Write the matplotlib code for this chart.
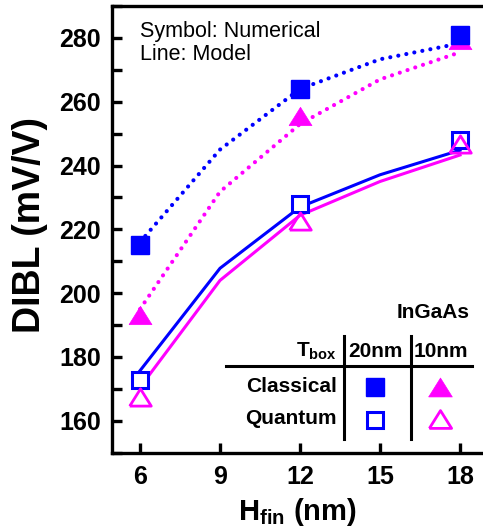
import numpy as np
import matplotlib
matplotlib.use('Agg')
import matplotlib.pyplot as plt
from matplotlib.ticker import MultipleLocator

plt.rcParams['font.family'] = ['Liberation Sans', 'DejaVu Sans']
plt.rcParams['mathtext.fontset'] = 'custom'
plt.rcParams['mathtext.rm'] = 'Liberation Sans:bold'
plt.rcParams['mathtext.it'] = 'Liberation Sans:bold'
plt.rcParams['mathtext.bf'] = 'Liberation Sans:bold'

# fin height (nm)
hfin_sim = [6, 12, 18]
hfin_model = [6, 9, 12, 15, 18]

# numerical (symbols), DIBL in mV/V
classical_20 = [215.2, 264.0, 281.0]
classical_10 = [193.2, 255.6, 279.2]
quantum_20 = [172.8, 227.8, 248.1]
quantum_10 = [167.6, 222.5, 246.8]

# model (lines)
model_classical_20 = [216.0, 245.0, 264.0, 273.3, 278.3]
model_classical_10 = [195.0, 231.8, 253.0, 267.0, 275.5]
model_quantum_20 = [175.7, 207.8, 227.0, 237.1, 244.8]
model_quantum_10 = [170.5, 204.0, 224.4, 235.0, 243.3]

blue = '#0000ff'
magenta = '#ff00ff'

# slightly wide triangle marker like the original
tri = [(-1, -0.8), (1, -0.8), (0, 0.8), (-1, -0.8)]

fig = plt.figure(figsize=(4.83, 5.29), dpi=100)
ax = fig.add_axes([112/483, (529-452.7)/529, 374.7/483, 446.7/529])

# model lines
dots = (0, (0.01, 1.95))
ax.plot(hfin_model, model_classical_20, color=blue, lw=3.0, linestyle=dots,
        dash_capstyle='round', zorder=2)
ax.plot(hfin_model, model_classical_10, color=magenta, lw=3.0, linestyle=dots,
        dash_capstyle='round', zorder=2)
ax.plot(hfin_model, model_quantum_20, color=blue, lw=2.2, zorder=2)
ax.plot(hfin_model, model_quantum_10, color=magenta, lw=2.2, zorder=2)

# numerical symbols
ax.plot(hfin_sim, classical_10, linestyle='none', marker=tri, ms=16.5, color=magenta,
        mec=magenta, mew=0.5, zorder=3)
ax.plot(hfin_sim, classical_20, linestyle='none', marker='s', ms=12.5, color=blue,
        mec=blue, mew=1, zorder=4)
ax.plot(hfin_sim, quantum_20, linestyle='none', marker='s', ms=11, mfc='white',
        mec=blue, mew=2.2, zorder=4)
ax.plot(hfin_sim, quantum_10, linestyle='none', marker=tri, ms=15.5, mfc='none',
        mec=magenta, mew=2.0, zorder=5)

ax.set_xlim(4.95, 19.0)
ax.set_ylim(150, 290)
ax.set_xticks([6, 9, 12, 15, 18])
ax.yaxis.set_major_locator(MultipleLocator(20))
ax.yaxis.set_minor_locator(MultipleLocator(10))
ax.tick_params(axis='both', which='both', direction='in', width=2.4, length=7.5,
               labelsize=18)
ax.tick_params(axis='x', pad=9)
ax.tick_params(axis='y', pad=8)
for lab in ax.get_xticklabels() + ax.get_yticklabels():
    lab.set_fontweight('bold')
for sp in ax.spines.values():
    sp.set_linewidth(2.4)

ax.set_ylabel('DIBL (mV/V)', fontsize=27, fontweight='bold', va='center', ha='center')
ax.yaxis.set_label_coords((30-112)/374.7, (452.7-225)/446.7)
ax.set_xlabel(r'H$_{\rm fin}$ (nm)', fontsize=21, fontweight='bold', va='baseline')
ax.xaxis.set_label_coords((297-112)/374.7, (452.7-520.5)/446.7)


def af(px, py):
    # image pixel -> axes fraction
    return (px - 112) / 374.7, (452.7 - py) / 446.7


ax.text(*af(140, 37.5), 'Symbol: Numerical', transform=ax.transAxes, fontsize=15.5,
        va='baseline', ha='left')
ax.text(*af(140, 60), 'Line: Model', transform=ax.transAxes, fontsize=15.5,
        va='baseline', ha='left')

# table legend
tk = dict(transform=ax.transAxes, fontsize=15, fontweight='bold', va='baseline')
ax.text(*af(469.5, 318.3), 'InGaAs', ha='right', **tk)
ax.text(*af(337, 356.7), r'T$_{\rm box}$', ha='right', **tk)
ax.text(*af(375, 356.7), '20nm', ha='center', **tk)
ax.text(*af(441, 356.7), '10nm', ha='center', **tk)
ax.text(*af(337, 391.7), 'Classical', ha='right', **tk)
ax.text(*af(337, 424.5), 'Quantum', ha='right', **tk)

x0, y0 = af(226, 365.7)
x1, _ = af(472, 365.7)
ax.plot([x0, x1], [y0, y0], color='black', lw=2.2, transform=ax.transAxes, clip_on=False)
for vx in (344, 410.5):
    xa, ya = af(vx, 336)
    _, yb = af(vx, 439)
    ax.plot([xa, xa], [ya, yb], color='black', lw=2.2, transform=ax.transAxes, clip_on=False)

ax.plot(*af(374.5, 387), marker='s', ms=13, color=blue, mec=blue, mew=1,
        transform=ax.transAxes, clip_on=False)
ax.plot(*af(440, 387), marker=tri, ms=17, color=magenta, mec=magenta, mew=0.5,
        transform=ax.transAxes, clip_on=False)
ax.plot(*af(374.5, 419.5), marker='s', ms=11.5, mfc='white', mec=blue, mew=2.2,
        transform=ax.transAxes, clip_on=False)
ax.plot(*af(440, 418.7), marker=tri, ms=16, mfc='none', mec=magenta, mew=2.0,
        transform=ax.transAxes, clip_on=False)

fig.savefig('out.png', dpi=100)
